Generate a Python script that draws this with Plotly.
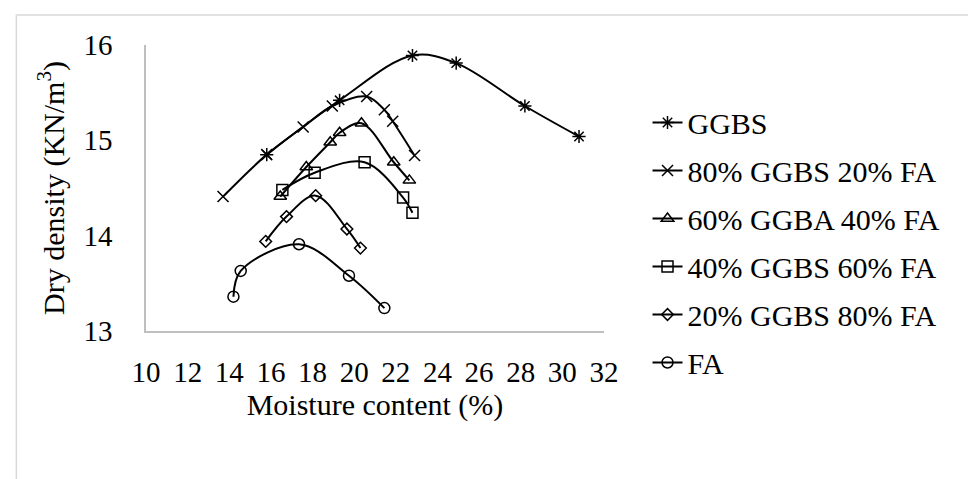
import plotly.graph_objects as go

ggbs_x = [15.8, 19.3, 22.8, 24.9, 28.2, 30.8]
ggbs_y = [14.85, 15.42, 15.89, 15.81, 15.36, 15.04]

g80_x = [13.7, 15.8, 17.55, 18.95, 20.6, 21.45, 21.85, 22.9]
g80_y = [14.41, 14.85, 15.14, 15.36, 15.46, 15.32, 15.20, 14.84]

g60_x = [16.45, 17.7, 18.85, 19.3, 20.35, 21.9, 22.65]
g60_y = [14.41, 14.72, 14.98, 15.08, 15.18, 14.77, 14.58]

g40_x = [16.55, 18.1, 20.5, 22.35, 22.8]
g40_y = [14.48, 14.66, 14.77, 14.40, 14.24]

g20_x = [15.75, 16.75, 18.15, 19.65, 20.3]
g20_y = [13.94, 14.20, 14.42, 14.07, 13.87]

fa_x = [14.2, 14.55, 17.35, 19.75, 21.45]
fa_y = [13.36, 13.63, 13.91, 13.58, 13.24]

names = ["GGBS", "80% GGBS 20% FA", "60% GGBA 40% FA", "40% GGBS 60% FA",
         "20% GGBS 80% FA", "FA"]
xs = [ggbs_x, g80_x, g60_x, g40_x, g20_x, fa_x]
ys = [ggbs_y, g80_y, g60_y, g40_y, g20_y, fa_y]
symbols = ["asterisk", "x-thin", "triangle-up-open", "square-open", "diamond-open", "circle-open"]
sizes = [11, 11, 11, 11, 9, 11]

font = "Liberation Serif, Times New Roman, serif"

fig = go.Figure()
for i, (n, x, y, s, sz) in enumerate(zip(names, xs, ys, symbols, sizes)):
    fig.add_trace(go.Scatter(
        x=x, y=y, name=n, mode="lines+markers",
        line=dict(color="black", width=2, shape="spline", smoothing=1),
        marker=dict(symbol=s, size=sz, color="black",
                    line=dict(color="black", width=1.5)),
        legendgroup=str(i),
    ))

fig.update_layout(
    width=976, height=479,
    margin=dict(l=138, r=380, t=37, b=156),
    paper_bgcolor="white", plot_bgcolor="white",
    font=dict(family=font, size=29, color="black"),
    showlegend=True,
    legend=dict(x=1.095, y=0.82, xanchor="left", yanchor="top",
                font=dict(family=font, size=30, color="black"),
                tracegroupgap=6, maxheight=470, bgcolor="rgba(0,0,0,0)"),
    xaxis=dict(range=[10, 32], dtick=2, tick0=10, showgrid=False, zeroline=False,
               showline=True, linecolor="#bfbfbf", linewidth=1.5,
               ticks="", ticklabelstandoff=14, tickfont=dict(size=29),
               title=dict(text="Moisture content (%)", font=dict(family=font, size=30), standoff=6)),
    yaxis=dict(range=[13, 16], dtick=1, tick0=13, showgrid=False, zeroline=False,
               showline=True, linecolor="#bfbfbf", linewidth=1.5,
               ticks="", ticklabelstandoff=26, tickfont=dict(size=29),
               title=dict(text="Dry density (KN/m<sup>3</sup>)", font=dict(family=font, size=30), standoff=10)),
    shapes=[dict(type="rect", xref="paper", yref="paper",
                 x0=-0.283, x1=1.9, y0=-0.6, y1=1.105,
                 line=dict(color="#d9d9d9", width=1.5), fillcolor="rgba(0,0,0,0)", layer="below")],
)

fig.write_html("out.html")
